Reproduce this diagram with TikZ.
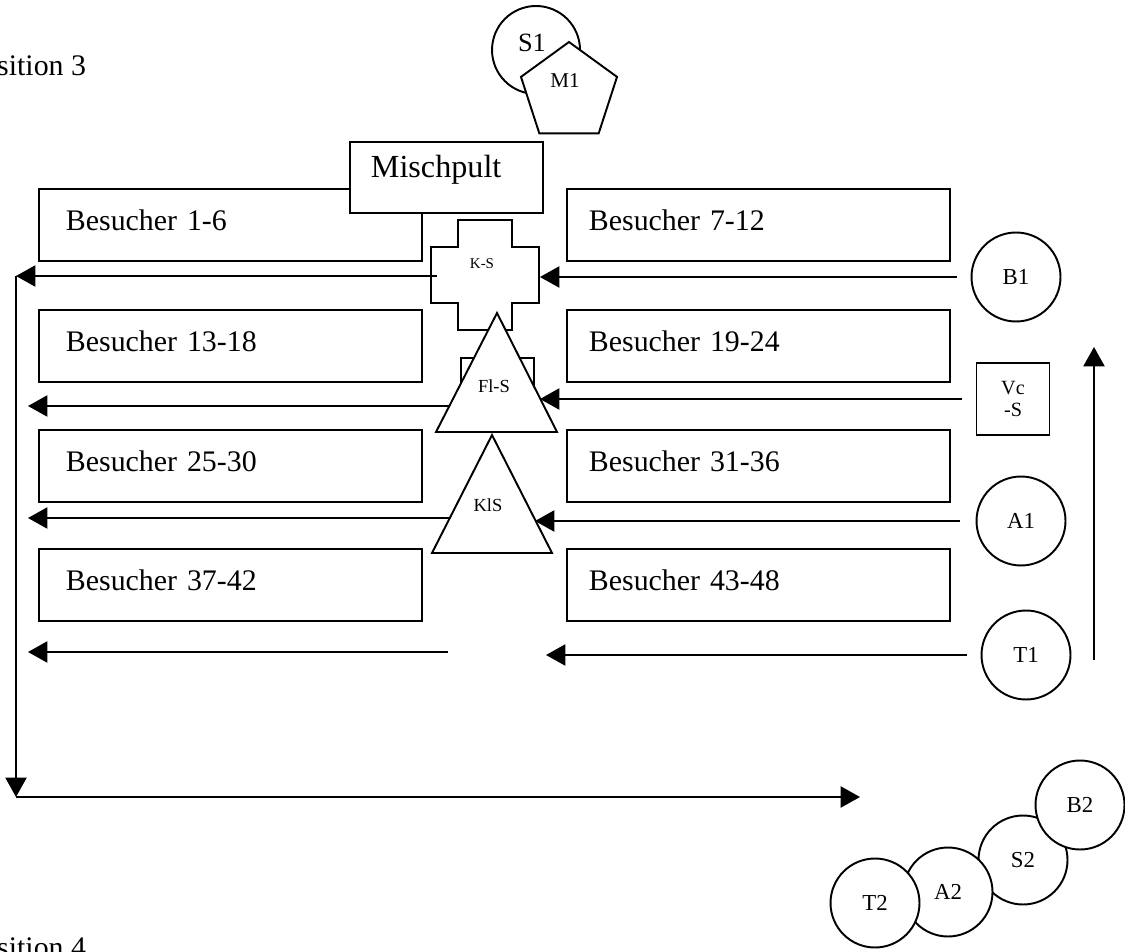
\documentclass[tikz,border=0pt]{standalone}
\usepackage{fontspec}
\setmainfont{Liberation Serif}
\usetikzlibrary{arrows.meta,shapes.geometric}

\newcommand{\schriftgross}{\fontsize{17}{20}\selectfont}
\newcommand{\schriftmittel}{\fontsize{13}{15}\selectfont}
\newcommand{\schriftklein}{\fontsize{10.5}{12.5}\selectfont}

\tikzset{
sitzreihe/.style={
  draw, anchor=north west,
  minimum width=7.66cm, minimum height=1.44cm,
  text depth=0.18cm,
  align=left, font=\schriftgross
  },
links/.style={sitzreihe, text width=6.58cm, inner xsep=0.54cm},
rechts/.style={sitzreihe, text width=6.78cm, inner xsep=0.44cm},
musiker/.style={
  draw, circle, fill=white,
  minimum size=1.78cm, inner sep=0pt,
  font=\schriftmittel
  },
pfeil/.style={-{Triangle[length=11pt,width=12pt]}}
}

\begin{document}
\begin{tikzpicture}[x=0.02cm, y=-0.02cm, line width=1.1pt]
\useasboundingbox (0,0) rectangle (1125,952);
\clip (0,0) rectangle (1125,952);

\node[font=\schriftgross, anchor=base east, inner sep=0pt] (pos3) at (87,76) {Position 3};
\node[font=\schriftgross, anchor=base east, inner sep=0pt] (pos4) at (87,957) {Position 4};

% Saenger und Moderator
\node[musiker, minimum size=1.76cm,
  label={[font=\fontsize{15}{17}\selectfont, xshift=-0.08cm, yshift=0.14cm]center:S1}]
  (s1) at (536,50) {};
\node[draw, fill=white, regular polygon, regular polygon sides=5,
  minimum size=2.02cm, inner sep=0pt,
  label={[font=\fontsize{12}{14}\selectfont, xshift=-0.08cm, yshift=0.23cm]center:M1}]
  (m1) at (569,92.5) {};

% Zuschauer
\node[links] (bes1) at (38,188) {Besucher 1-6};
\node[rechts] (bes7) at (566,188) {Besucher 7-12};
\node[links] (bes13) at (38,309) {Besucher 13-18};
\node[rechts] (bes19) at (566,309) {Besucher 19-24};
\node[links] (bes25) at (38,429) {Besucher 25-30};
\node[rechts] (bes31) at (566,429) {Besucher 31-36};
\node[links] (bes37) at (38,548) {Besucher 37-42};
\node[rechts] (bes43) at (566,548) {Besucher 43-48};

\node[draw, fill=white, anchor=north west,
  minimum width=3.86cm, minimum height=1.42cm,
  text width=3.02cm, inner xsep=0.42cm, text depth=0.44cm,
  align=left, font=\fontsize{18.3}{21}\selectfont]
  (mischpult) at (349,141) {Mischpult};

% Kreuz
\filldraw[fill=white, line width=1.5pt]
  (431,247) -| (458,220) -| (512,247) -| (539,303)
  -| (512,330) -| (458,303) -| (431,247) -- cycle;
\node[minimum width=2.16cm, minimum height=2.2cm, inner sep=0pt,
  label={[font=\fontsize{8.5}{10}\selectfont, xshift=-0.06cm, yshift=0.24cm]center:K-S}]
  (ks) at (485,276) {};

% Dreiecke
\draw (461,358) rectangle (534,420);
\filldraw[fill=white] (497,313) -- (557,432) -- (436,432) -- cycle;
\node[font=\schriftklein] (fls) at (494,386) {Fl-S};
\filldraw[fill=white] (492,435) -- (552,553) -- (432,553) -- cycle;
\node[font=\schriftklein] (kls) at (488,505) {KlS};

% Musiker rechts
\node[musiker] (b1) at (1016,277) {B1};
\node[draw, minimum width=1.46cm, minimum height=1.44cm,
  align=center, inner sep=0pt, font=\fontsize{11.5}{12.5}\selectfont]
  (vcs) at (1013,399) {Vc\\-S};
\node[musiker] (a1) at (1021,521) {A1};
\node[musiker] (t1) at (1026,655) {T1};

% Musiker unten
\node[musiker] (s2) at (1023,860) {S2};
\node[musiker] (b2) at (1080,805) {B2};
\node[musiker] (a2) at (948,892) {A2};
\node[musiker] (t2) at (875,903) {T2};

\coordinate (ecke) at (16,276);
\coordinate (unten) at (16,797);
\coordinate (ende) at (860,797);
\coordinate (rand) at (28,0);
\coordinate (fls-r) at (540,398);
\coordinate (kls-r) at (535,521);
\coordinate (mitte-r) at (546,655);
\coordinate (fls-l) at (449,406);
\coordinate (kls-l) at (449,518);
\coordinate (mitte-l) at (448,652);
\coordinate (hoch-u) at (1094,660);
\coordinate (hoch-o) at (1094,347);

\begin{scope}[pfeil]
\draw[shorten <=8pt] (b1.west) -- (b1.west -| ks.east);
\draw[shorten <=8pt] (vcs.west) -- (vcs.west -| fls-r);
\draw[shorten <=9pt] (a1.west) -- (a1.west -| kls-r);
\draw[shorten <=8pt] (t1.west) -- (t1.west -| mitte-r);
\draw ([xshift=0.14cm]ks.west) -- (ks.west -| ecke);
\draw (fls-l) -- (fls-l -| rand);
\draw (kls-l) -- (kls-l -| rand);
\draw (mitte-l) -- (mitte-l -| rand);
\draw (ecke) -- (unten);
\draw (unten) -- (ende);
\draw (hoch-u) -- (hoch-o);
\end{scope}
\end{tikzpicture}
\end{document}
